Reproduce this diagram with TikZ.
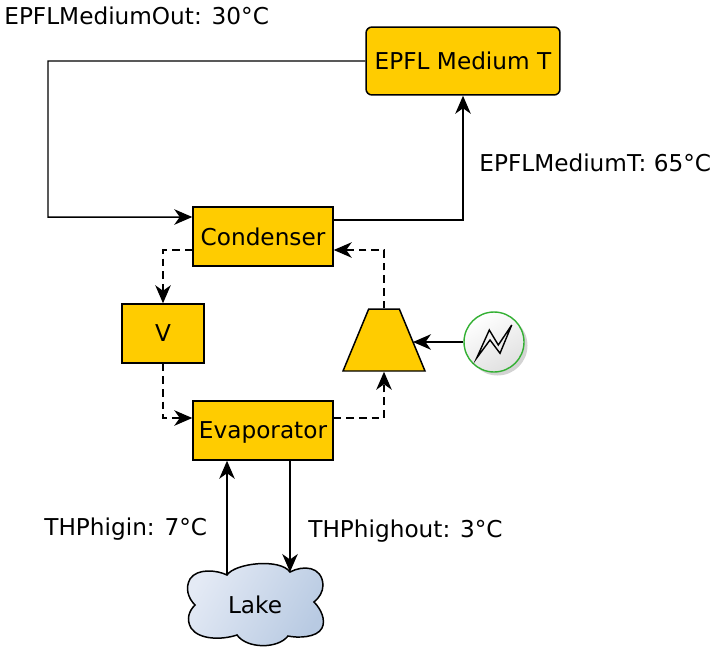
\documentclass[tikz,border=0pt]{standalone}
\usepackage{fontspec}
\setmainfont{DejaVu Sans}
\usetikzlibrary{arrows.meta,calc,shadows,shapes.geometric}
\definecolor{unitfill}{HTML}{FFCC00}
\definecolor{motorgreen}{HTML}{33B033}
\definecolor{lakelight}{HTML}{E4EAF5}
\definecolor{lakedark}{HTML}{B8CAE2}
\tikzstyle{unit}=[draw,fill=unitfill,line width=0.85pt,inner sep=0pt,text depth=0pt]
\tikzstyle{flow}=[draw,line width=0.85pt,-{Stealth[length=0.36cm,width=0.31cm,inset=0.11cm]}]
\tikzstyle{refrigerant}=[flow,dash pattern=on 4.4pt off 2.8pt]
\tikzstyle{label}=[anchor=base west,inner sep=0pt]
\begin{document}
\begin{tikzpicture}[x=0.02cm,y=-0.02cm,font=\fontsize{13.2}{16}\selectfont]
\useasboundingbox (0,0) rectangle (715,652);
\node[unit,rounded corners=0.12cm,minimum width=3.88cm,minimum height=1.36cm](mediumT) at (463,61) {EPFL Medium T};
\node[unit,minimum width=2.8cm,minimum height=1.18cm](condenser) at (263,236.5) {Condenser};
\node[unit,minimum width=1.64cm,minimum height=1.18cm](valve) at (163,333.5) {V};
\node[unit,minimum width=2.8cm,minimum height=1.18cm](evaporator) at (263,430.5) {Evaporator};
\node[unit,trapezium,inner sep=2pt,trapezium stretches,trapezium left angle=50,trapezium right angle=50,minimum width=1.64cm,minimum height=1.24cm](compressor) at (384,340) {};
\node[circle,draw=motorgreen,line width=0.8pt,minimum size=1.2cm,inner sep=0pt,top color=white,bottom color=black!12,shading angle=30,drop shadow={shadow xshift=0.07cm,shadow yshift=-0.07cm,opacity=0.35}](motor) at (494,342) {};
\draw[line width=0.8pt,line join=miter] (476.7,358)--(489.3,330)--(498.3,345)--(511.7,325)--(500,353.3)--(490,340)--cycle;
% lake
\path[draw,line width=0.85pt,left color=lakelight,right color=lakedark,shading angle=60]
  (227,575) .. controls (235,563) and (280,558) .. (290,572)
  .. controls (303,565) and (322,566) .. (323,585) .. controls (323,592) and (319,598) .. (314,602)
  .. controls (321,609) and (326,620) .. (322,628) .. controls (317,638) and (297,638) .. (288,636)
  .. controls (278,649) and (247,649) .. (237,635)
  .. controls (222,640) and (199,640) .. (191,628) .. controls (186,619) and (189,611) .. (195,605)
  .. controls (188,598) and (185,588) .. (190,579) .. controls (197,568) and (217,570) .. (227,575) -- cycle;
\node[](lake) at (255,605) {Lake};
\coordinate (lakeIn) at (227,575);
\coordinate (lakeOut) at (290,572);
\coordinate (returnBend) at (48,217);
\draw[flow] (mediumT.west) -| (returnBend) -- ([yshift=0.39cm]condenser.west);
\draw[flow] ([yshift=0.33cm]condenser.east) -| (mediumT.south);
\draw[refrigerant] ([yshift=-0.27cm]condenser.west) -| (valve.north);
\draw[refrigerant] (valve.south) |- ([yshift=0.25cm]evaporator.west);
\draw[refrigerant] ([yshift=0.25cm]evaporator.east) -| (compressor.south);
\draw[refrigerant] (compressor.north) |- ([yshift=-0.27cm]condenser.east);
\draw[flow] (motor.west) -- (motor.west -| compressor.east);
\draw[flow] (lakeIn) -- (lakeIn |- evaporator.south);
\draw[flow] (evaporator.south -| lakeOut) -- (lakeOut);
\node[label](outTemp) at (4,25) {EPFLMediumOut: 30°C};
\node[label](mediumTemp) at (479,171) {EPFLMediumT: 65°C};
\node[label](inTemp) at (44,535) {THPhigin: 7°C};
\node[label](highTemp) at (308,537) {THPhighout: 3°C};
\end{tikzpicture}
\end{document}
